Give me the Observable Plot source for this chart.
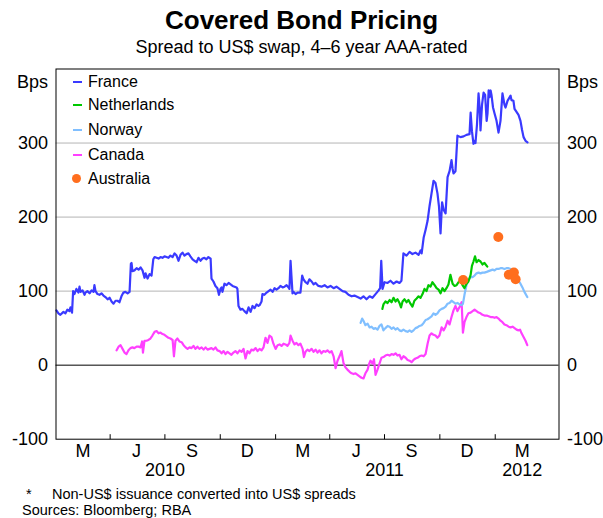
<!DOCTYPE html>
<html><head><meta charset="utf-8">
<script src="https://cdn.jsdelivr.net/npm/d3@7"></script>
<script src="https://cdn.jsdelivr.net/npm/@observablehq/plot@0.6"></script>
<style>
body{margin:0;background:#fff;}
#wrap{position:relative;width:603px;height:518px;font-family:Arial,"Liberation Sans",sans-serif;color:#000;overflow:hidden;}
#title{position:absolute;top:5px;left:0;width:603px;text-align:center;font-size:26px;font-weight:bold;line-height:30px;}
#subtitle{position:absolute;top:36px;left:0;width:603px;text-align:center;font-size:18px;line-height:22px;}
#chart{position:absolute;top:62px;left:0;}
.lg{position:absolute;left:73px;height:20px;line-height:20px;font-size:16px;white-space:nowrap;}
.lg .mk{position:absolute;left:0;}
.lg .tx{position:absolute;left:15px;top:0;}
.foot{position:absolute;font-size:14.5px;line-height:18px;white-space:nowrap;}
</style></head><body>
<div id="wrap">
<div id="title">Covered Bond Pricing</div>
<div id="subtitle">Spread to US$ swap, 4–6 year AAA-rated</div>
<div id="chart"></div>
<div class="foot" style="left:26px;top:485px;">*</div>
<div class="foot" style="left:52px;top:485px;">Non-US$ issuance converted into US$ spreads</div>
<div class="foot" style="left:22px;top:501px;">Sources: Bloomberg; RBA</div>
</div>
<script>
// ---- data: [years since 2010-01-01, spread in bps] ----
const baseYear = 2010;
const franceData = [[0.002,74],[0.011,70],[0.020,68],[0.034,72],[0.043,70],[0.052,75],[0.061,73],[0.066,78],[0.073,71],[0.078,100],[0.084,96],[0.093,103],[0.102,98],[0.107,106],[0.112,99],[0.121,101],[0.130,95],[0.134,98],[0.143,100],[0.153,97],[0.162,101],[0.171,99],[0.175,108],[0.180,100],[0.189,96],[0.198,95],[0.207,97],[0.216,94],[0.225,92],[0.235,89],[0.244,91],[0.253,86],[0.262,83],[0.271,87],[0.280,87],[0.289,85],[0.298,93],[0.307,98],[0.316,99],[0.326,97],[0.335,99],[0.341,137],[0.344,138],[0.348,127],[0.357,128],[0.367,131],[0.376,129],[0.385,132],[0.394,128],[0.403,118],[0.408,124],[0.417,117],[0.426,123],[0.435,121],[0.443,143],[0.449,146],[0.458,145],[0.467,144],[0.476,146],[0.485,145],[0.494,147],[0.503,146],[0.512,145],[0.521,148],[0.531,146],[0.540,151],[0.549,148],[0.558,141],[0.567,149],[0.576,152],[0.585,148],[0.594,150],[0.603,151],[0.612,147],[0.622,143],[0.631,141],[0.640,139],[0.649,145],[0.658,141],[0.667,144],[0.676,145],[0.685,143],[0.694,146],[0.704,144],[0.708,117],[0.717,113],[0.726,107],[0.735,104],[0.742,95],[0.749,103],[0.754,105],[0.758,99],[0.767,110],[0.776,108],[0.786,111],[0.795,109],[0.804,107],[0.813,106],[0.822,105],[0.826,103],[0.831,80],[0.840,75],[0.849,76],[0.858,73],[0.868,70],[0.877,78],[0.886,72],[0.895,80],[0.904,77],[0.913,82],[0.922,80],[0.927,81],[0.936,86],[0.940,96],[0.949,95],[0.959,98],[0.968,100],[0.977,102],[0.986,99],[0.995,104],[1.004,102],[1.013,104],[1.022,107],[1.032,105],[1.041,106],[1.050,108],[1.059,105],[1.063,103],[1.068,141],[1.072,121],[1.077,97],[1.082,99],[1.091,96],[1.100,98],[1.113,98],[1.121,121],[1.127,116],[1.136,112],[1.145,110],[1.154,116],[1.164,113],[1.173,109],[1.182,111],[1.195,107],[1.209,106],[1.223,108],[1.236,105],[1.250,107],[1.264,104],[1.277,106],[1.291,103],[1.305,100],[1.318,99],[1.332,95],[1.346,93],[1.359,94],[1.373,92],[1.387,90],[1.400,93],[1.414,89],[1.428,93],[1.441,91],[1.455,96],[1.469,101],[1.476,104],[1.481,141],[1.487,103],[1.496,112],[1.510,111],[1.523,114],[1.537,110],[1.551,113],[1.564,111],[1.573,114],[1.582,151],[1.596,148],[1.610,153],[1.623,150],[1.637,152],[1.651,149],[1.660,155],[1.665,151],[1.674,172],[1.683,183],[1.692,195],[1.701,215],[1.710,232],[1.719,249],[1.728,246],[1.737,232],[1.744,214],[1.751,178],[1.758,220],[1.765,210],[1.774,205],[1.783,254],[1.792,262],[1.801,277],[1.806,265],[1.810,259],[1.819,262],[1.828,310],[1.842,308],[1.856,309],[1.869,311],[1.883,312],[1.888,341],[1.894,316],[1.901,299],[1.906,303],[1.910,300],[1.917,325],[1.924,367],[1.929,348],[1.933,317],[1.940,352],[1.947,368],[1.954,365],[1.961,330],[1.965,340],[1.970,371],[1.974,362],[1.979,371],[1.983,365],[1.990,348],[1.997,340],[2.006,330],[2.015,314],[2.024,330],[2.033,367],[2.042,352],[2.047,348],[2.056,357],[2.070,364],[2.074,358],[2.083,357],[2.088,346],[2.097,342],[2.106,338],[2.115,330],[2.122,318],[2.129,308],[2.138,303],[2.147,301]];
const netherlandsData = [[1.486,76],[1.491,82],[1.500,86],[1.510,84],[1.519,88],[1.528,85],[1.537,91],[1.546,86],[1.555,89],[1.564,84],[1.571,78],[1.578,86],[1.587,89],[1.596,85],[1.605,88],[1.614,83],[1.623,79],[1.632,87],[1.642,90],[1.651,93],[1.660,91],[1.669,96],[1.678,103],[1.687,100],[1.696,108],[1.705,106],[1.714,112],[1.724,108],[1.733,104],[1.742,102],[1.751,97],[1.760,104],[1.769,100],[1.778,104],[1.787,109],[1.796,122],[1.806,110],[1.815,107],[1.824,108],[1.833,112],[1.842,115],[1.851,108],[1.860,104],[1.869,110],[1.878,113],[1.888,122],[1.894,134],[1.901,140],[1.908,147],[1.915,139],[1.924,142],[1.933,140],[1.942,136],[1.951,138],[1.964,133]];
const norwayData = [[1.387,57],[1.394,63],[1.400,60],[1.409,54],[1.419,56],[1.428,51],[1.437,52],[1.446,49],[1.455,50],[1.464,48],[1.473,53],[1.482,55],[1.491,47],[1.500,50],[1.510,53],[1.519,52],[1.528,49],[1.537,51],[1.546,48],[1.555,50],[1.564,47],[1.573,46],[1.582,48],[1.592,46],[1.601,45],[1.610,47],[1.619,45],[1.628,47],[1.637,50],[1.646,51],[1.655,53],[1.665,54],[1.674,57],[1.683,61],[1.692,62],[1.701,64],[1.710,66],[1.719,70],[1.728,68],[1.737,70],[1.746,74],[1.756,76],[1.765,77],[1.774,79],[1.783,83],[1.792,84],[1.801,87],[1.810,85],[1.819,83],[1.828,84],[1.838,82],[1.847,81],[1.853,83],[1.860,95],[1.869,108],[1.878,115],[1.888,119],[1.897,119],[1.906,121],[1.915,124],[1.924,125],[1.933,124],[1.942,125],[1.951,125],[1.961,126],[1.970,127],[1.979,128],[1.988,129],[1.997,128],[2.006,130],[2.015,130],[2.024,131],[2.033,131],[2.042,130],[2.051,131],[2.061,131],[2.070,130],[2.079,127],[2.088,122],[2.097,118],[2.106,114],[2.115,110],[2.124,105],[2.133,99],[2.146,92]];
const canadaData = [[0.276,20],[0.285,25],[0.294,27],[0.303,22],[0.312,17],[0.321,15],[0.330,20],[0.339,23],[0.348,24],[0.357,23],[0.367,25],[0.376,25],[0.385,24],[0.392,32],[0.396,17],[0.403,33],[0.412,33],[0.421,34],[0.430,36],[0.439,40],[0.449,45],[0.458,46],[0.467,43],[0.476,44],[0.485,42],[0.494,41],[0.503,39],[0.512,37],[0.521,36],[0.531,34],[0.537,12],[0.544,33],[0.553,36],[0.562,32],[0.572,31],[0.581,27],[0.590,24],[0.599,22],[0.608,24],[0.617,23],[0.626,26],[0.635,22],[0.644,25],[0.653,22],[0.663,24],[0.672,21],[0.681,24],[0.690,21],[0.699,22],[0.708,23],[0.717,21],[0.726,24],[0.735,20],[0.745,19],[0.754,16],[0.763,19],[0.772,15],[0.781,18],[0.790,16],[0.799,14],[0.808,17],[0.817,19],[0.826,16],[0.836,20],[0.845,18],[0.854,22],[0.863,9],[0.872,19],[0.881,16],[0.890,21],[0.899,20],[0.909,23],[0.918,19],[0.927,22],[0.936,20],[0.945,24],[0.954,37],[0.963,30],[0.972,40],[0.981,38],[0.990,29],[1.000,22],[1.009,27],[1.018,28],[1.027,26],[1.036,29],[1.045,28],[1.054,26],[1.063,30],[1.068,40],[1.077,33],[1.086,28],[1.095,30],[1.104,27],[1.113,29],[1.123,22],[1.129,11],[1.136,18],[1.145,21],[1.154,19],[1.164,22],[1.173,18],[1.182,21],[1.191,17],[1.200,20],[1.209,16],[1.218,19],[1.227,18],[1.236,20],[1.246,17],[1.255,19],[1.264,12],[1.273,-4],[1.282,6],[1.291,12],[1.300,19],[1.309,3],[1.318,-3],[1.327,-6],[1.337,-9],[1.346,-11],[1.355,-12],[1.364,-11],[1.373,-13],[1.382,-15],[1.391,-17],[1.400,-18],[1.409,-11],[1.419,-6],[1.425,1],[1.432,6],[1.441,2],[1.448,8],[1.455,-13],[1.464,-6],[1.473,2],[1.482,10],[1.491,11],[1.500,13],[1.510,14],[1.519,13],[1.528,15],[1.537,14],[1.546,16],[1.555,13],[1.564,14],[1.573,8],[1.582,12],[1.592,10],[1.601,7],[1.610,6],[1.619,4],[1.628,7],[1.637,9],[1.646,10],[1.655,12],[1.665,13],[1.674,12],[1.683,15],[1.692,29],[1.701,40],[1.710,43],[1.719,41],[1.728,40],[1.737,37],[1.746,40],[1.756,51],[1.765,47],[1.774,52],[1.783,60],[1.792,55],[1.801,65],[1.810,74],[1.819,80],[1.828,73],[1.838,79],[1.847,85],[1.853,44],[1.860,58],[1.869,65],[1.878,70],[1.888,71],[1.897,73],[1.906,75],[1.915,73],[1.924,71],[1.933,70],[1.942,68],[1.951,67],[1.961,67],[1.970,66],[1.979,65],[1.988,65],[1.997,64],[2.006,65],[2.015,63],[2.024,60],[2.033,58],[2.042,55],[2.051,54],[2.061,52],[2.070,51],[2.079,52],[2.088,50],[2.097,48],[2.106,47],[2.113,48],[2.120,43],[2.129,38],[2.138,33],[2.146,27]];
const australiaData = [[1.854,115],[2.014,173],[2.062,122],[2.085,125],[2.093,116]];

const seriesNames = ["France","Netherlands","Norway","Canada","Australia"];
const seriesColors = ["#3a3aff","#00c800","#80bfff","#ff40ff","#ff6e1e"];

const yDomain = [-100, 400];
const yTicks = [-100, 0, 100, 200, 300];
const gridLevels = [100, 200, 300];
const xDomain = ["2010-01-01", "2012-04-16"];
const quarterStarts = ["2010-04-01","2010-07-01","2010-10-01","2011-01-01","2011-04-01","2011-07-01","2011-10-01","2012-01-01"];
const quarterMids = ["2010-02-15","2010-05-15","2010-08-15","2010-11-15","2011-02-15","2011-05-15","2011-08-15","2011-11-15","2012-02-15"];
const monthLetters = ["M","J","S","D"];
const yearMids = ["2010-07-01","2011-07-01","2012-02-15"];
const unitLabel = "Bps";

// ---- helpers ----
const t0 = Date.UTC(baseYear, 0, 1);
const toDate = t => new Date(t0 + t * 365 * 864e5);
const asDate = s => new Date(s + "T00:00:00Z");
const xOf = d => toDate(d[0]);
const yOf = d => d[1];
const col = Object.fromEntries(seriesNames.map((n, i) => [n, seriesColors[i]]));
const tickUp = {draw(ctx) { ctx.moveTo(0, 0); ctx.lineTo(0, -5); }};

const chart = Plot.plot({
  width: 603, height: 418,
  marginTop: 6.5, marginBottom: 41.3, marginLeft: 55.5, marginRight: 44.5,
  style: {fontFamily: "Arial, 'Liberation Sans', sans-serif", fontSize: "18px", background: "white", color: "black", overflow: "visible"},
  x: {type: "utc", domain: xDomain.map(asDate)},
  y: {domain: yDomain},
  marks: [
    Plot.ruleY(gridLevels, {stroke: "#b4b4b4", strokeWidth: 1}),
    Plot.ruleY([0], {stroke: "black", strokeWidth: 1}),
    Plot.line(canadaData, {x: xOf, y: yOf, stroke: col.Canada, strokeWidth: 2.2}),
    Plot.line(norwayData, {x: xOf, y: yOf, stroke: col.Norway, strokeWidth: 2.2}),
    Plot.line(netherlandsData, {x: xOf, y: yOf, stroke: col.Netherlands, strokeWidth: 2.2}),
    Plot.line(franceData, {x: xOf, y: yOf, stroke: col.France, strokeWidth: 2.2}),
    Plot.dot(australiaData, {x: xOf, y: yOf, r: 5, fill: col.Australia, stroke: "none"}),
    Plot.frame({stroke: "black", strokeWidth: 1}),
    Plot.axisY(yTicks, {anchor: "left", tickSize: 0, tickPadding: 8, tickFormat: d => String(d), label: null}),
    Plot.axisY(yTicks, {anchor: "right", tickSize: 0, tickPadding: 8, tickFormat: d => String(d), label: null}),
    Plot.dot(quarterStarts.map(asDate), {x: d => d, y: () => yDomain[0], symbol: tickUp, stroke: "black", strokeWidth: 1, fill: "none", r: 5}),
    Plot.axisX(quarterMids.map(asDate), {anchor: "bottom", tickSize: 0, tickPadding: 5, tickFormat: d => monthLetters[Math.floor(d.getUTCMonth() / 3)], label: null}),
    Plot.axisX(yearMids.map(asDate), {anchor: "bottom", tickSize: 0, tickPadding: 24, tickFormat: d => String(d.getUTCFullYear()), label: null}),
    Plot.text([unitLabel], {text: d => d, frameAnchor: "top-left", dx: -8, dy: 13.5, textAnchor: "end", lineAnchor: "middle"}),
    Plot.text([unitLabel], {text: d => d, frameAnchor: "top-right", dx: 8, dy: 13.5, textAnchor: "start", lineAnchor: "middle"})
  ]
});
document.getElementById("chart").appendChild(chart);

// ---- legend (inside plot, top-left) ----
const wrap = document.getElementById("wrap");
const rowCenters = [82, 105, 130, 155, 179];
seriesNames.forEach((name, i) => {
  const row = document.createElement("div");
  row.className = "lg";
  row.style.top = (rowCenters[i] - 10) + "px";
  const mk = document.createElement("span");
  mk.className = "mk";
  if (name === "Australia") {
    Object.assign(mk.style, {width: "9px", height: "9px", borderRadius: "50%", background: seriesColors[i], top: "5px", left: "-1px"});
  } else {
    Object.assign(mk.style, {width: "9px", height: "2px", background: seriesColors[i], top: "9px"});
  }
  const tx = document.createElement("span");
  tx.className = "tx";
  tx.textContent = name;
  row.appendChild(mk); row.appendChild(tx);
  wrap.appendChild(row);
});
</script>
</body></html>
